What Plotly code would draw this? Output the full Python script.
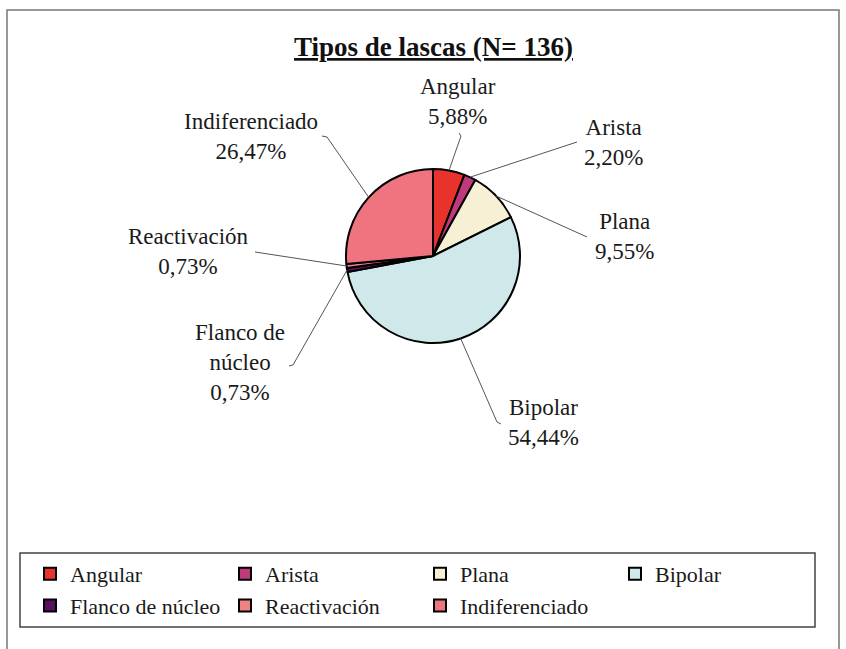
import math
import plotly.graph_objects as go

# ---- data ----
categories = ["Angular", "Arista", "Plana", "Bipolar", "Flanco de núcleo", "Reactivación", "Indiferenciado"]
percentages = [5.88, 2.20, 9.55, 54.44, 0.73, 0.73, 26.47]
label_names = ["Angular", "Arista", "Plana", "Bipolar", "Flanco de<br>núcleo", "Reactivación", "Indiferenciado"]
colors = ["#E8322C", "#C0397A", "#F7F0D4", "#CFE8EA", "#5A1060", "#F28282", "#EF7480"]
title_text = "Tipos de lascas (N= 136)"

# ---- layout constants (pixels) ----
W, H = 846, 649
CX, CY, R = 433, 256, 87
label_centers = [(458, 101), (613, 142), (624, 236), (543, 422), (240, 363), (188, 251), (251, 137)]
line_ends = [(461, 136), (577, 142), (587, 237), (497, 422), (293, 365), (255, 252), (327, 137)]
hooks = [(459, 133), (577, 142), (587, 237), (501, 424), (289, 366), (255, 252), (322, 136)]

FONT = "Liberation Serif, Times New Roman, serif"


def px(x):
    return x / W


def py(y):
    return 1 - y / H


fig = go.Figure(go.Pie(
    labels=categories,
    values=percentages,
    sort=False,
    direction="clockwise",
    rotation=0,
    marker=dict(colors=colors, line=dict(color="black", width=2)),
    textinfo="none",
    hoverinfo="label+percent",
    domain=dict(x=[px(CX - R), px(CX + R)], y=[py(CY + R), py(CY - R)]),
))

shapes = []
annotations = []
total = sum(percentages)
cum = 0.0
for i, v in enumerate(percentages):
    theta = math.radians(360 * (cum + v / 2) / total)
    cum += v
    sx = CX + R * math.sin(theta)
    sy = CY - R * math.cos(theta)
    ex, ey = line_ends[i]
    hx, hy = hooks[i]
    shapes.append(dict(
        type="path", xref="paper", yref="paper",
        path=f"M {px(sx)} {py(sy)} L {px(ex)} {py(ey)} L {px(hx)} {py(hy)}",
        line=dict(color="#555555", width=1),
    ))
    txt = f"{label_names[i]}<br>{v:.2f}".replace(".", ",") + "%"
    lx, ly = label_centers[i]
    annotations.append(dict(
        x=px(lx), y=py(ly), xref="paper", yref="paper",
        text=txt, showarrow=False, xanchor="center", yanchor="middle",
        font=dict(family=FONT, size=23, color="#1a1a1a"),
    ))

# title
annotations.append(dict(
    x=px(433), y=py(47), xref="paper", yref="paper",
    text=f"<b><u>{title_text}</u></b>", showarrow=False,
    xanchor="center", yanchor="middle",
    font=dict(family=FONT, size=27, color="#111111"),
))

# outer chart border and legend box
shapes.append(dict(type="rect", xref="paper", yref="paper",
                   x0=px(7), x1=px(839), y0=py(662), y1=py(10),
                   line=dict(color="#777777", width=1.5)))
shapes.append(dict(type="rect", xref="paper", yref="paper",
                   x0=px(20), x1=px(815), y0=py(627), y1=py(553),
                   line=dict(color="#444444", width=1.5)))

fig.update_layout(
    width=W, height=H,
    margin=dict(l=0, r=0, t=0, b=0),
    paper_bgcolor="white",
    plot_bgcolor="white",
    shapes=shapes,
    annotations=annotations,
    showlegend=True,
    legend=dict(
        orientation="h",
        x=px(30), y=py(553), xanchor="left", yanchor="top",
        entrywidth=150, entrywidthmode="pixels",
        itemwidth=30,
        font=dict(family=FONT, size=22, color="#1a1a1a"),
        bgcolor="rgba(0,0,0,0)",
        borderwidth=0,
        traceorder="normal",
    ),
)

fig.write_html(
    "out.html",
    config={"displayModeBar": False},
    post_script="document.body.style.margin='0px';document.body.style.overflow='hidden';",
)
